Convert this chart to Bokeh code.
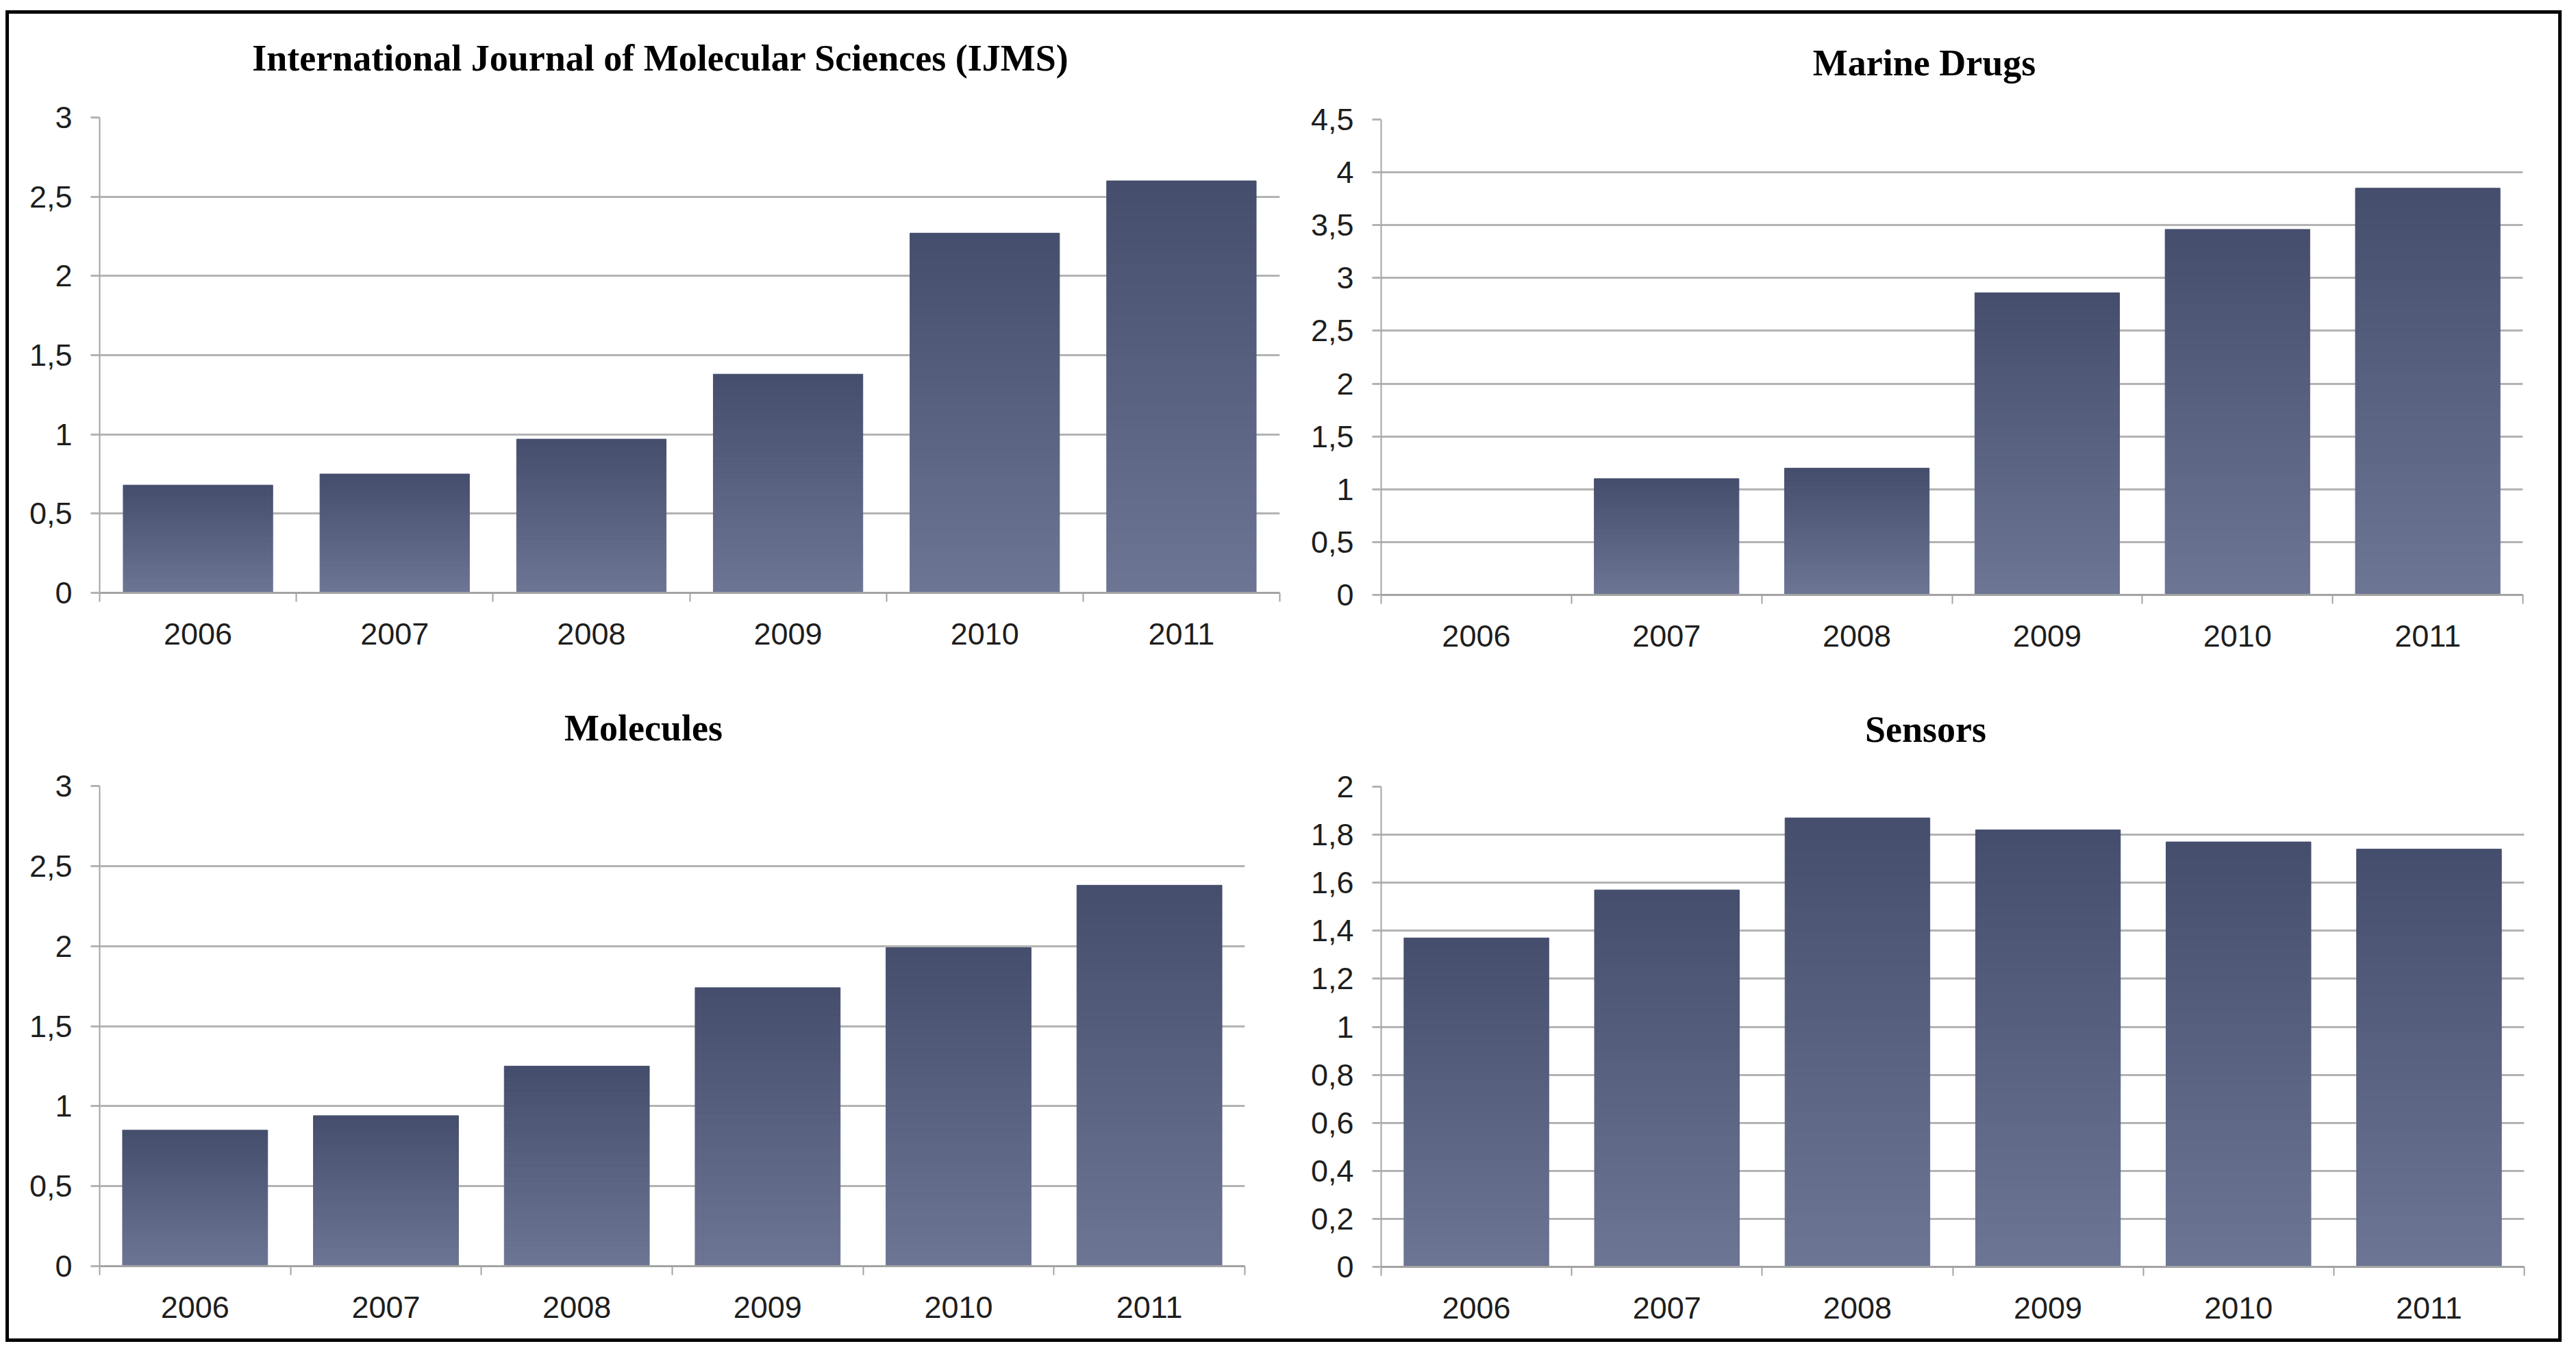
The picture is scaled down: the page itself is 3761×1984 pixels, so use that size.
from bokeh.embed import file_html
from bokeh.layouts import column, row
from bokeh.models import ColumnDataSource, FixedTicker, Label, Range1d, Spacer
from bokeh.plotting import figure
from bokeh.resources import INLINE

# Data - values
years = ["2006", "2007", "2008", "2009", "2010", "2011"]
ijms_values = [0.68, 0.75, 0.97, 1.38, 2.27, 2.60]
marine_values = [0.0, 1.10, 1.20, 2.86, 3.46, 3.85]
molecules_values = [0.85, 0.94, 1.25, 1.74, 1.99, 2.38]
sensors_values = [1.37, 1.57, 1.87, 1.82, 1.77, 1.74]

ijms_ticks = [0, 0.5, 1, 1.5, 2, 2.5, 3]
marine_ticks = [0, 0.5, 1, 1.5, 2, 2.5, 3, 3.5, 4, 4.5]
molecules_ticks = [0, 0.5, 1, 1.5, 2, 2.5, 3]
sensors_ticks = [0, 0.2, 0.4, 0.6, 0.8, 1, 1.2, 1.4, 1.6, 1.8, 2]

# Style
BAR_TOP = (0x44, 0x4D, 0x6B)
BAR_BOTTOM = (0x6D, 0x76, 0x94)
GRID_COLOR = "#B3B3B3"
AXIS_COLOR = "#A3A3A3"
LABEL_COLOR = "#1E1E1E"
SLICES = 40
TITLE_H_TOP = 115
TITLE_H_BOTTOM = 130


def make_title(text, width, height, x, y):
    # strip of its own holding the panel title; x is measured from the chart frame's left edge
    t = figure(
        width=width,
        height=height,
        x_range=Range1d(0, 1),
        y_range=Range1d(0, 1),
        x_axis_location=None,
        y_axis_location=None,
        toolbar_location=None,
        output_backend="svg",
        min_border=0,
    )
    t.grid.visible = False
    t.outline_line_color = None
    t.background_fill_color = "#FFFFFF"
    t.border_fill_color = "#FFFFFF"
    t.add_layout(
        Label(
            x=x,
            y=y,
            x_units="screen",
            y_units="screen",
            text=text,
            text_align="center",
            text_baseline="middle",
            text_font="Liberation Serif",
            text_font_style="bold",
            text_font_size="54px",
            text_color="#000000",
        )
    )
    return t


def make_panel(values, y_ticks, width, height, left, right, top, bottom):
    n = len(years)
    p = figure(
        width=width,
        height=height,
        x_range=Range1d(0, n),
        y_range=Range1d(y_ticks[0], y_ticks[-1]),
        toolbar_location=None,
        output_backend="svg",
        min_border_left=left,
        min_border_right=right,
        min_border_top=top,
        min_border_bottom=bottom,
    )

    # bars drawn as stacked slices to imitate the vertical gradient fill
    xs, bottoms, tops, colors = [], [], [], []
    for i, v in enumerate(values):
        if v <= 0:
            continue
        for k in range(SLICES):
            t = (k + 0.5) / SLICES
            c = tuple(round(b + (tp - b) * t) for b, tp in zip(BAR_BOTTOM, BAR_TOP))
            xs.append(i + 0.5)
            bottoms.append(v * k / SLICES)
            tops.append(v * (k + 1) / SLICES)
            colors.append("#%02x%02x%02x" % c)
    src = ColumnDataSource(data={"x": xs, "bottom": bottoms, "top": tops, "color": colors})
    p.vbar(x="x", bottom="bottom", top="top", width=0.76, fill_color="color", line_color="color", line_width=1, source=src)

    # x axis: labels at category centres, ticks at category boundaries
    p.xaxis.ticker = FixedTicker(ticks=[i + 0.5 for i in range(n)], minor_ticks=list(range(n + 1)))
    p.xaxis.major_label_overrides = {i + 0.5: y for i, y in enumerate(years)}
    p.xaxis.major_tick_line_color = None
    p.xaxis.major_tick_out = 0
    p.xaxis.major_tick_in = 0
    p.xaxis.minor_tick_out = 13
    p.xaxis.minor_tick_in = 0
    p.xaxis.minor_tick_line_color = AXIS_COLOR
    p.xaxis.minor_tick_line_width = 2
    p.xaxis.axis_line_color = AXIS_COLOR
    p.xaxis.axis_line_width = 3
    p.xaxis.major_label_standoff = 31

    # y axis with comma decimals
    p.yaxis.ticker = FixedTicker(ticks=y_ticks)
    p.yaxis.major_label_overrides = {t: f"{round(t, 1):g}".replace(".", ",") for t in y_ticks}
    p.yaxis.axis_line_color = AXIS_COLOR
    p.yaxis.axis_line_width = 2
    p.yaxis.major_tick_out = 13
    p.yaxis.major_tick_in = 0
    p.yaxis.major_tick_line_color = GRID_COLOR
    p.yaxis.major_tick_line_width = 3
    p.yaxis.minor_tick_line_color = None
    p.yaxis.major_label_standoff = 27

    for ax in (p.xaxis, p.yaxis):
        ax.major_label_text_font = "Liberation Sans"
        ax.major_label_text_font_size = "45px"
        ax.major_label_text_color = LABEL_COLOR

    p.xgrid.visible = False
    p.ygrid.grid_line_color = GRID_COLOR
    p.ygrid.grid_line_width = 3

    p.outline_line_color = None
    p.background_fill_color = "#FFFFFF"
    p.border_fill_color = "#FFFFFF"
    return p


tl = column(
    make_title("International Journal of Molecular Sciences (IJMS)", 1878, TITLE_H_TOP, 819, TITLE_H_TOP - 64),
    make_panel(ijms_values, ijms_ticks, 1878, 960 - TITLE_H_TOP, 132, 23, 151 - TITLE_H_TOP, 115),
)
tr = column(
    make_title("Marine Drugs", 1844, TITLE_H_TOP, 793, TITLE_H_TOP - 71),
    make_panel(marine_values, marine_ticks, 1844, 960 - TITLE_H_TOP, 125, 52, 154 - TITLE_H_TOP, 112),
)
bl = column(
    make_title("Molecules", 1878, TITLE_H_BOTTOM, 794, TITLE_H_BOTTOM - 82),
    make_panel(molecules_values, molecules_ticks, 1878, 974 - TITLE_H_BOTTOM, 132, 74, 167 - TITLE_H_BOTTOM, 106),
)
br = column(
    make_title("Sensors", 1844, TITLE_H_BOTTOM, 795, TITLE_H_BOTTOM - 84),
    make_panel(sensors_values, sensors_ticks, 1844, 974 - TITLE_H_BOTTOM, 125, 50, 168 - TITLE_H_BOTTOM, 105),
)

# black outer frame built from filled spacers
BORDER = 5
BLACK = {"background-color": "#000000"}
charts = column(row(tl, tr), row(bl, br))
inner_w = 1878 + 1844
inner_h = 960 + 974
framed = column(
    Spacer(width=inner_w + 2 * BORDER, height=BORDER, styles=BLACK),
    row(
        Spacer(width=BORDER, height=inner_h, styles=BLACK),
        charts,
        Spacer(width=BORDER, height=inner_h, styles=BLACK),
    ),
    Spacer(width=inner_w + 2 * BORDER, height=BORDER, styles=BLACK),
)

layout = column(Spacer(width=10, height=15), row(Spacer(width=8, height=10), framed))

open("out.html", "w").write(file_html(layout, INLINE))
